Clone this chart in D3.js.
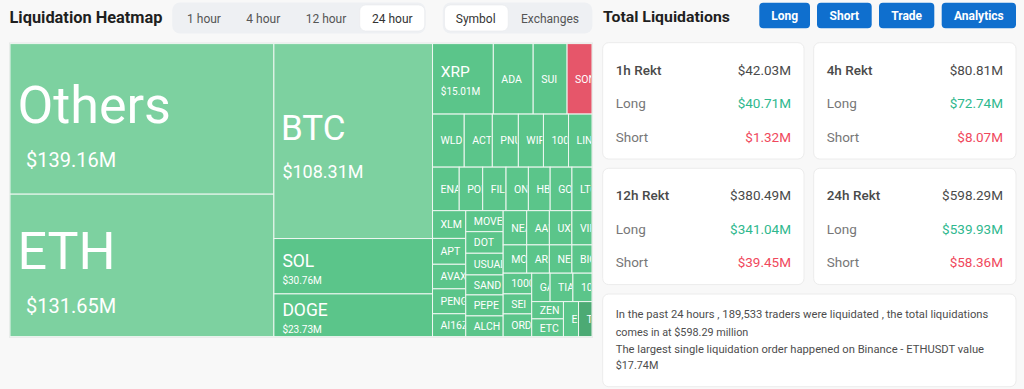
<!DOCTYPE html>
<html><head><meta charset="utf-8">
<script src="https://cdn.jsdelivr.net/npm/d3@7"></script>
<style>
html,body{margin:0;padding:0;background:#f8f8f8;}
svg{display:block;font-family:Roboto,"Noto Sans",sans-serif;}
</style></head><body>
<svg id="c" width="1024" height="389"></svg>
<script>
// ---------- data ----------
const symbols = ["Others","ETH","BTC","SOL","DOGE","XRP","ADA","SUI","SONIC",
  "WLD","ACT","PNUT","WIF","1000PEPE","LINK",
  "ENA","POL","FIL","ONDO","HBAR","GOAT","LTC",
  "XLM","APT","AVAX","PENGU","AI16Z",
  "MOVE","DOT","USUAL","SAND","PEPE","ALCH",
  "NEAR","AAVE","UXLINK","VIRTUAL",
  "MOODENG","ARB","NEIRO","BIO",
  "1000BONK","SEI","ORDI","GALA","TIA","1000SATS","ZEN","ETC","EOS","TRX"];
const liqValues = [139.16,131.65,108.31,30.76,23.73,15.01,9.84,8.37,6.15,
  5.89,5.22,4.84,4.66,4.66,4.36,
  4.07,3.58,3.56,3.41,3.32,3.32,3.06,
  3.23,3.01,2.86,2.90,2.66,
  2.75,2.83,2.84,2.62,2.75,2.71,
  2.82,2.72,2.70,2.41,
  2.33,2.25,2.23,1.99,
  2.07,2.00,2.27,1.83,2.27,1.90,1.92,1.97,1.85,1.65];
// tone: L = light green, G = green, S = short-dominant (red), D = dark green
const tones = ["L","L","L","G","G","G","G","G","S",
  "G","G","G","G","G","G","G","G","G","G","G","G","G",
  "G","G","G","G","G","G","G","G","G","G","G",
  "G","G","G","G","G","G","G","G","G","G","G","G","G","G","G","G","G","D"];
// grouping of the tiles into strips (R = side by side, C = stacked)
const R = (...items) => ({dir:"row", items});
const C = (...items) => ({dir:"col", items});
const stripGroups = R(
  C("Others","ETH"),
  C("BTC","SOL","DOGE"),
  C(
    R("XRP","ADA","SUI","SONIC"),
    R("WLD","ACT","PNUT","WIF","1000PEPE","LINK"),
    R("ENA","POL","FIL","ONDO","HBAR","GOAT","LTC"),
    R(
      C("XLM","APT","AVAX","PENGU","AI16Z"),
      C("MOVE","DOT","USUAL","SAND","PEPE","ALCH"),
      C(
        R("NEAR","AAVE","UXLINK","VIRTUAL"),
        R("MOODENG","ARB","NEIRO","BIO"),
        R(
          C("1000BONK","SEI","ORDI"),
          C(
            R("GALA","TIA","1000SATS"),
            R(C("ZEN","ETC"),"EOS","TRX")
          )
        )
      )
    )
  )
);
const timeTabs = ["1 hour","4 hour","12 hour","24 hour"];
const viewTabs = ["Symbol","Exchanges"];
const actionButtons = ["Long","Short","Trade","Analytics"];
const rektPeriods = ["1h Rekt","4h Rekt","12h Rekt","24h Rekt"];
const rektTotal = [42.03,80.81,380.49,598.29];
const rektLong = [40.71,72.74,341.04,539.93];
const rektShort = [1.32,8.07,39.45,58.36];
const summaryLines = [
  "In the past 24 hours , 189,533 traders were liquidated , the total liquidations",
  "comes in at $598.29 million",
  "The largest single liquidation order happened on Binance - ETHUSDT value",
  "$17.74M"];

// ---------- drawing ----------
const svg = d3.select("#c");
const fmt = v => "$" + v.toFixed(2) + "M";
const toneColor = {L:"#7dd1a0", G:"#5bc58a", S:"#e6566a", D:"#4caa74"};

// header left
svg.append("text").attr("x",9.5).attr("y",23).attr("font-size",16).attr("font-weight",700)
  .attr("fill","#1f1f1f").attr("textLength",153).attr("lengthAdjust","spacingAndGlyphs")
  .text("Liquidation Heatmap");

function tabGroup(x, w, labels, centers, activeIdx, activeRect) {
  const g = svg.append("g");
  g.append("rect").attr("x",x).attr("y",2.5).attr("width",w).attr("height",31).attr("rx",8)
    .attr("fill","#eef0f3");
  g.append("rect").attr("x",activeRect[0]).attr("y",5).attr("width",activeRect[1]).attr("height",26)
    .attr("rx",6).attr("fill","#fff").attr("stroke","#e8eaed").attr("stroke-width",0.6);
  g.selectAll("text.t").data(labels).join("text").attr("class","t")
    .attr("x",(d,i)=>centers[i]).attr("y",22.5).attr("text-anchor","middle")
    .attr("font-size",12).attr("fill",(d,i)=>i===activeIdx?"#333":"#555").text(d=>d);
}
tabGroup(172.2, 253.4, timeTabs, [204,263.3,326,392.3], 3, [359.7,65]);
tabGroup(442.8, 149.6, viewTabs, [475.7,550], 0, [444.5,63.7]);

// header right
svg.append("text").attr("x",603).attr("y",22).attr("font-size",15.5).attr("font-weight",700)
  .attr("fill","#1f1f1f").attr("textLength",127).attr("lengthAdjust","spacingAndGlyphs")
  .text("Total Liquidations");
const btnX = [759.3,817,879,941.7], btnW = [50.7,54.7,55.3,74.3];
const bg = svg.append("g").selectAll("g").data(actionButtons).join("g");
bg.append("rect").attr("x",(d,i)=>btnX[i]).attr("y",2.7).attr("width",(d,i)=>btnW[i]).attr("height",25.6)
  .attr("rx",4).attr("fill","#0f6fce");
bg.append("text").attr("x",(d,i)=>btnX[i]+btnW[i]/2).attr("y",20).attr("text-anchor","middle")
  .attr("font-size",12).attr("font-weight",700).attr("fill","#fff").text(d=>d);

// ---------- treemap ----------
const valueOf = Object.fromEntries(symbols.map((s,i)=>[s,liqValues[i]]));
const toneOf = Object.fromEntries(symbols.map((s,i)=>[s,tones[i]]));
function toNode(it){
  if (typeof it === "string") return {name:it, value:valueOf[it], tone:toneOf[it]};
  return {dir:it.dir, children:it.items.map(toNode)};
}
const root = d3.hierarchy(toNode(stripGroups)).sum(d=>d.value||0);
const tile = (node,x0,y0,x1,y1) =>
  (node.data.dir==="row" ? d3.treemapDice : d3.treemapSlice)(node,x0,y0,x1,y1);
const TW = 582, TH = 293, TX = 10, TY = 43.6;
d3.treemap().tile(tile).size([TW,TH])(root);

const tm = svg.append("g").attr("transform",`translate(${TX},${TY})`);
tm.append("rect").attr("x",-0.5).attr("y",-0.5).attr("width",TW+1).attr("height",TH+1)
  .attr("fill","none").attr("stroke","#e2e2e2");
const leaves = root.leaves();
const cell = tm.selectAll("g.cell").data(leaves).join("g").attr("class","cell");
cell.append("clipPath").attr("id",(d,i)=>"cp"+i)
  .append("rect").attr("x",d=>d.x0).attr("y",d=>d.y0)
  .attr("width",d=>Math.max(0,d.x1-d.x0-1)).attr("height",d=>d.y1-d.y0);
cell.append("rect").attr("x",d=>d.x0).attr("y",d=>d.y0)
  .attr("width",d=>d.x1-d.x0).attr("height",d=>d.y1-d.y0)
  .attr("fill",d=>toneColor[d.data.tone]).attr("stroke","#eef7f1").attr("stroke-width",1);

function tier(w,h){
  if (w>200 && h>120) return {nf:52, vf:20, nx:7.5, vx:16, ndy:4, vdy:48};
  if (w>120 && h>150) return {nf:35, vf:18, nx:7, vx:8.5, ndy:-1, vdy:37};
  if (w>120 && h>40)  return {nf:17.5, vf:10, nx:8.5, vx:8.5, ndy:1, vdy:18};
  if (w>50 && h>60)   return {nf:15.5, vf:10, nx:8.3, vx:8.3, ndy:-2, vdy:16};
  return {nf:10.5, nx:8, ndy:3.8};
}
cell.each(function(d,i){
  const g = d3.select(this).append("g").attr("clip-path",`url(#cp${i})`);
  const w = d.x1-d.x0, h = d.y1-d.y0, cy = (d.y0+d.y1)/2, t = tier(w,h);
  const txt = g.append("text").attr("x",d.x0+t.nx).attr("y",cy+t.ndy).attr("font-size",t.nf)
    .attr("fill","#fff").text(d.data.name);
  // keep only the letters that start inside the tile (the rest is cut by the clip)
  let s = d.data.name;
  const room = w - t.nx + 6;
  while (s.length > 1 && txt.node().getComputedTextLength() > room) {
    s = s.slice(0,-1); txt.text(s);
  }
  if (t.vf) g.append("text").attr("x",d.x0+t.vx).attr("y",cy+t.vdy).attr("font-size",t.vf)
    .attr("fill","#fff").text(fmt(d.data.value));
});

// ---------- cards ----------
const cardPos = [[602.7,42.7],[813.7,42.7],[602.7,168.3],[813.7,168.3]];
const cardW = [201.3,202.3,201.3,202.3];
const cards = svg.append("g").selectAll("g").data(rektPeriods).join("g")
  .attr("transform",(d,i)=>`translate(${cardPos[i][0]},${cardPos[i][1]})`);
cards.append("rect").attr("width",(d,i)=>cardW[i]).attr("height",116.3).attr("rx",6)
  .attr("fill","#fff").attr("stroke","#ececec");
cards.append("text").attr("x",13).attr("y",32).attr("font-size",13.5).attr("font-weight",500)
  .attr("fill","#4a4a4a").text(d=>d);
cards.append("text").attr("x",13).attr("y",65.5).attr("font-size",13.5).attr("fill","#777").text("Long");
cards.append("text").attr("x",13).attr("y",99).attr("font-size",13.5).attr("fill","#777").text("Short");
cards.append("text").attr("x",(d,i)=>cardW[i]-13).attr("y",32).attr("text-anchor","end")
  .attr("font-size",13.5).attr("fill","#4a4a4a").text((d,i)=>fmt(rektTotal[i]));
cards.append("text").attr("x",(d,i)=>cardW[i]-13).attr("y",65.5).attr("text-anchor","end")
  .attr("font-size",13.5).attr("fill","#2fb88e").text((d,i)=>fmt(rektLong[i]));
cards.append("text").attr("x",(d,i)=>cardW[i]-13).attr("y",99).attr("text-anchor","end")
  .attr("font-size",13.5).attr("fill","#f0485c").text((d,i)=>fmt(rektShort[i]));

const sg = svg.append("g").attr("transform","translate(602.7,294)");
sg.append("rect").attr("width",413.3).attr("height",92.7).attr("rx",6).attr("fill","#fff").attr("stroke","#ececec");
const lineLen = [372.6,null,368.3,null];
sg.selectAll("text").data(summaryLines).join("text")
  .attr("x",13).attr("y",(d,i)=>[24.3,41.7,59.3,75][i]).attr("font-size",10.8).attr("fill","#4d4d4d")
  .each(function(d,i){ if(lineLen[i]) d3.select(this).attr("textLength",lineLen[i]).attr("lengthAdjust","spacingAndGlyphs"); })
  .text(d=>d);
</script>
</body></html>
